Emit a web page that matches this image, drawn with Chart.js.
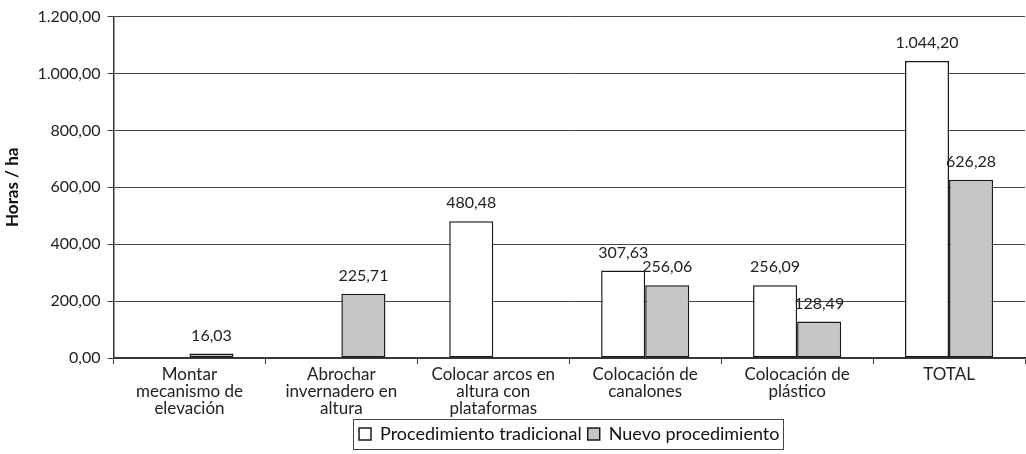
<!DOCTYPE html>
<html>
<head>
<meta charset="utf-8">
<script src="https://cdn.jsdelivr.net/npm/chart.js@4/dist/chart.umd.min.js"></script>
<style>
  html, body { margin: 0; padding: 0; background: #fff; }
  #wrap { width: 1026px; height: 454px; position: relative; }
</style>
</head>
<body>
<div id="wrap"><canvas id="c"></canvas></div>
<script>
const categories = [
  ['Montar', 'mecanismo de', 'elevación'],
  ['Abrochar', 'invernadero en', 'altura'],
  ['Colocar arcos en', 'altura con', 'plataformas'],
  ['Colocación de', 'canalones'],
  ['Colocación de', 'plástico'],
  'TOTAL'
];
const tradicional = [null, null, 480.48, 307.63, 256.09, 1044.20];
const nuevo = [16.03, 225.71, null, 256.06, 128.49, 626.28];
const seriesNames = ['Procedimiento tradicional', 'Nuevo procedimiento'];
const yTitle = 'Horas / ha';

// Spanish number format: thousands with '.', decimals with ','
function fmt(v) {
  const parts = v.toFixed(2).split('.');
  parts[0] = parts[0].replace(/\B(?=(\d{3})+(?!\d))/g, '.');
  return parts.join(',');
}

const FONT = 'Lato, "Open Sans", sans-serif';

const valueLabels = {
  id: 'valueLabels',
  afterDatasetsDraw(chart) {
    const ctx = chart.ctx;
    ctx.save();
    ctx.font = '16px ' + FONT;
    ctx.fillStyle = '#222';
    ctx.textAlign = 'center';
    ctx.textBaseline = 'bottom';
    chart.data.datasets.forEach((ds, i) => {
      chart.getDatasetMeta(i).data.forEach((bar, j) => {
        const v = ds.data[j];
        if (v == null) return;
        ctx.fillText(fmt(v), bar.x, bar.y - 10);
      });
    });
    ctx.restore();
  }
};

const legendBorder = {
  id: 'legendBorder',
  afterDraw(chart) {
    const lg = chart.legend;
    if (!lg || !lg.legendHitBoxes || !lg.legendHitBoxes.length) return;
    const boxes = lg.legendHitBoxes;
    let x0 = Infinity, x1 = -Infinity, y0 = Infinity, y1 = -Infinity;
    boxes.forEach(b => {
      x0 = Math.min(x0, b.left); x1 = Math.max(x1, b.left + b.width);
      y0 = Math.min(y0, b.top); y1 = Math.max(y1, b.top + b.height);
    });
    const ctx = chart.ctx;
    ctx.save();
    ctx.strokeStyle = '#444';
    ctx.lineWidth = 1;
    ctx.strokeRect(Math.round(x0 - 6) + 0.5, Math.round(y0 - 6) + 0.5, Math.round(x1 - x0 + 10), Math.round(y1 - y0 + 12));
    ctx.restore();
  }
};

new Chart(document.getElementById('c'), {
  type: 'bar',
  data: {
    labels: categories,
    datasets: [
      {
        label: seriesNames[0],
        data: tradicional,
        backgroundColor: '#ffffff',
        borderColor: '#1a1a1a',
        borderWidth: 1.5,
        borderSkipped: false
      },
      {
        label: seriesNames[1],
        data: nuevo,
        backgroundColor: '#c6c6c6',
        borderColor: '#1a1a1a',
        borderWidth: 1.5,
        borderSkipped: false
      }
    ]
  },
  options: {
    responsive: true,
    maintainAspectRatio: false,
    animation: false,
    devicePixelRatio: 1,
    datasets: { bar: { categoryPercentage: 0.58, barPercentage: 1.0 } },
    layout: { padding: { top: 0, right: 1, left: 2, bottom: 1 } },
    plugins: {
      tooltip: { enabled: false },
      legend: {
        position: 'bottom',
        fullSize: false,
        labels: {
          font: { family: FONT, size: 18 },
          color: '#111',
          boxWidth: 12,
          boxHeight: 12,
          padding: 6,
          useBorderRadius: false
        }
      }
    },
    scales: {
      x: {
        offset: true,
        grid: {
          display: true,
          offset: true,
          drawOnChartArea: false,
          drawTicks: true,
          tickLength: 6,
          color: '#444'
        },
        border: { display: true, color: '#333', width: 1.5 },
        ticks: {
          font: { family: FONT, size: 17, lineHeight: 1.0 },
          color: '#222',
          maxRotation: 0,
          autoSkip: false,
          padding: 2
        }
      },
      y: {
        min: 0,
        max: 1200,
        grid: {
          color: '#444',
          lineWidth: 1,
          drawTicks: true,
          tickLength: 6
        },
        border: { display: true, color: '#333', width: 1.5 },
        ticks: {
          stepSize: 200,
          font: { family: FONT, size: 16 },
          color: '#222',
          padding: 7,
          callback: v => fmt(v)
        },
        title: {
          display: true,
          text: yTitle,
          font: { family: FONT, size: 17, weight: 'bold' },
          color: '#111',
          padding: { top: 0, bottom: 8 }
        }
      }
    }
  },
  plugins: [valueLabels, legendBorder]
});
</script>
</body>
</html>
